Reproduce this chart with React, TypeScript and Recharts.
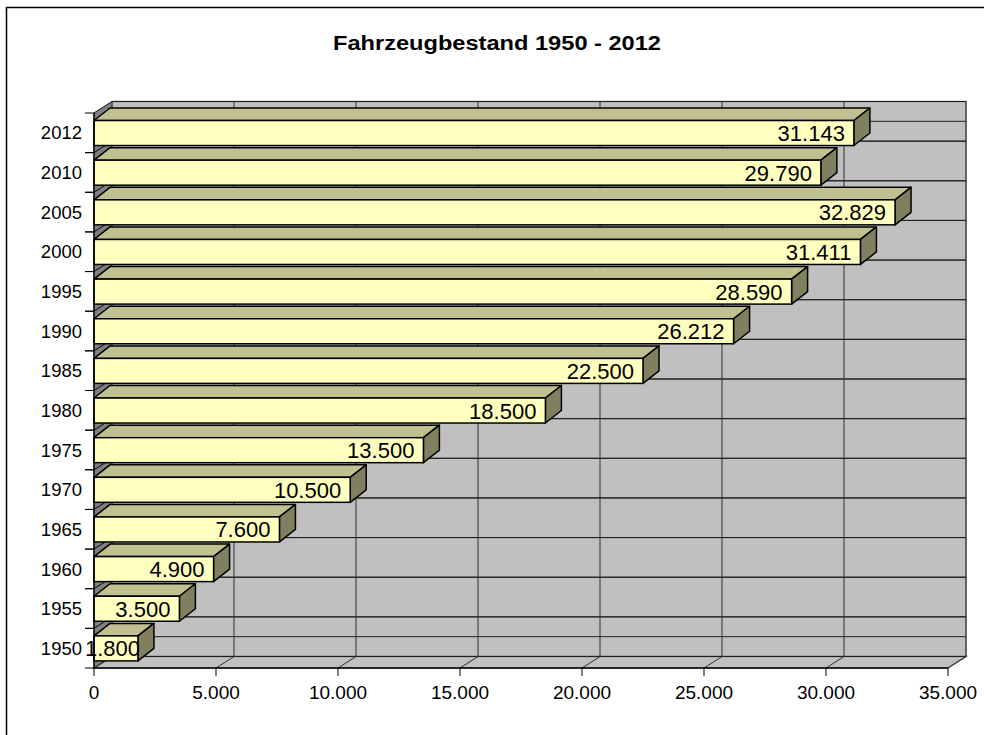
import { BarChart, Bar, XAxis, YAxis, CartesianGrid } from 'recharts';

const YEARS = ['1950', '1955', '1960', '1965', '1970', '1975', '1980', '1985', '1990', '1995', '2000', '2005', '2010', '2012'];
const VEHICLES = [1800, 3500, 4900, 7600, 10500, 13500, 18500, 22500, 26212, 28590, 31411, 32829, 29790, 31143];
const X_TICKS = [0, 5000, 10000, 15000, 20000, 25000, 30000, 35000];
const TITLE = 'Fahrzeugbestand 1950 - 2012';

const data = YEARS.map((year, i) => ({ year, value: VEHICLES[i] }));

const W = 984;
const H = 735;
const FONT = '"Liberation Sans", Arial, sans-serif';

// front plane of the plot
const PLOT = { left: 94, top: 113, right: 948, bottom: 668 };
const BAND = (PLOT.bottom - PLOT.top) / YEARS.length;

// depth offsets for the fake 3D look
const WALL_DX = 18;
const WALL_DY = -11.5;
const BAR_DX = 16;
const BAR_DY = -12.5;

const fmt = (v: number) => String(v).replace(/\B(?=(\d{3})+(?!\d))/g, '.');

function Bar3D(props: any) {
  const { x, y, width, height, payload } = props;
  const x2 = x + width;
  const y2 = y + height;
  const top = `${x},${y} ${x + BAR_DX},${y + BAR_DY} ${x2 + BAR_DX},${y + BAR_DY} ${x2},${y}`;
  const side = `${x2},${y} ${x2 + BAR_DX},${y + BAR_DY} ${x2 + BAR_DX},${y2 + BAR_DY} ${x2},${y2}`;
  // keep tiny labels from running over the axis labels
  const labelRight = Math.max(x2 - 9, x + 46);
  return (
    <g>
      <polygon points={top} fill="#C0C090" stroke="#000" strokeWidth={1.5} strokeLinejoin="round" />
      <polygon points={side} fill="#808060" stroke="#000" strokeWidth={1.5} strokeLinejoin="round" />
      <rect x={x} y={y} width={width} height={height} fill="#FFFFC0" stroke="#000" strokeWidth={1.5} />
      <text x={labelRight} y={y + height / 2 + 8} textAnchor="end" fontSize={22} fontFamily={FONT} fill="#000">
        {fmt(payload.value)}
      </text>
    </g>
  );
}

function YearTick(props: any) {
  const { y, payload } = props;
  const edges = [y - BAND / 2, y + BAND / 2];
  return (
    <g>
      {edges.map((e) => (
        <line key={e} x1={PLOT.left - 9} y1={e} x2={PLOT.left} y2={e} stroke="#000" />
      ))}
      <text x={PLOT.left - 12} y={y} dy="0.36em" textAnchor="end" fontSize={18.5} fontFamily={FONT} fill="#000">
        {payload.value}
      </text>
    </g>
  );
}

const renderVertical = (p: any) => (
  <g key={`v-${p.index}`}>
    <line x1={p.x1 + WALL_DX} y1={p.y1 + WALL_DY} x2={p.x2 + WALL_DX} y2={p.y2 + WALL_DY} stroke="#303030" />
    <line x1={p.x1} y1={p.y2} x2={p.x1 + WALL_DX} y2={p.y2 + WALL_DY} stroke="#303030" />
  </g>
);

// category lines sit on band edges, not band centres
const renderHorizontal = (p: any) => (
  <g key={`h-${p.index}`}>
    {[p.y1 - BAND / 2, p.y1 + BAND / 2]
      .filter((yb) => yb > PLOT.top - 1 && yb < PLOT.bottom + 1)
      .map((yb) => (
        <g key={yb}>
          <line x1={p.x1} y1={yb} x2={p.x1 + WALL_DX} y2={yb + WALL_DY} stroke="#202020" />
          <line x1={p.x1 + WALL_DX} y1={yb + WALL_DY} x2={p.x2 + WALL_DX} y2={yb + WALL_DY} stroke="#202020" />
        </g>
      ))}
  </g>
);

function Backdrop() {
  const bl = PLOT.left + WALL_DX;
  const br = PLOT.right + WALL_DX;
  const bt = PLOT.top + WALL_DY;
  const bb = PLOT.bottom + WALL_DY;
  return (
    <svg width={W} height={H} style={{ position: 'absolute', left: 0, top: 0 }}>
      <rect x={0} y={0} width={W} height={H} fill="#fff" />
      <line x1={6.5} y1={7} x2={6.5} y2={H + 10} stroke="#000" strokeWidth={1.5} />
      <line x1={6} y1={7.5} x2={W + 10} y2={7.5} stroke="#000" strokeWidth={1.5} />
      <text
        x={497}
        y={50}
        textAnchor="middle"
        fontSize={20}
        fontWeight="bold"
        fontFamily={FONT}
        textLength={328}
        lengthAdjust="spacingAndGlyphs"
        fill="#000"
      >
        {TITLE}
      </text>
      <rect x={bl} y={bt} width={br - bl} height={bb - bt} fill="#C0C0C0" stroke="#808080" strokeWidth={1.5} />
      <polygon
        points={`${PLOT.left},${PLOT.top} ${bl},${bt} ${bl},${bb} ${PLOT.left},${PLOT.bottom}`}
        fill="#808080"
        stroke="#808080"
      />
      <polygon
        points={`${PLOT.left},${PLOT.bottom} ${PLOT.right},${PLOT.bottom} ${br},${bb} ${bl},${bb}`}
        fill="#C0C0C0"
        stroke="#808080"
        strokeWidth={1.5}
      />
    </svg>
  );
}

export default function App() {
  return (
    <div style={{ position: 'absolute', left: 0, top: 0, width: W, height: H, overflow: 'hidden' }}>
      <style>{'html,body{margin:0;overflow:hidden}'}</style>
      <Backdrop />
      <div style={{ position: 'absolute', left: 0, top: 0 }}>
        <BarChart
          width={W}
          height={H}
          data={data}
          layout="vertical"
          accessibilityLayer={false}
          margin={{ top: PLOT.top, right: W - PLOT.right, bottom: H - PLOT.bottom - 30, left: PLOT.left - 80 }}
          barCategoryGap="19%"
        >
          <CartesianGrid vertical={renderVertical} horizontal={renderHorizontal} />
          <XAxis
            type="number"
            domain={[0, 35000]}
            ticks={X_TICKS}
            interval={0}
            height={30}
            tickFormatter={fmt}
            tickSize={8}
            tickMargin={10}
            axisLine={{ stroke: '#000', strokeWidth: 1.5 }}
            tickLine={{ stroke: '#000' }}
            tick={{ fill: '#000', fontSize: 19, fontFamily: FONT }}
          />
          <YAxis
            type="category"
            dataKey="year"
            reversed
            width={80}
            interval={0}
            axisLine={{ stroke: '#000', strokeWidth: 1.5 }}
            tickLine={false}
            tick={(p: any) => <YearTick {...p} />}
          />
          <Bar dataKey="value" shape={(p: any) => <Bar3D {...p} />} isAnimationActive={false} />
        </BarChart>
      </div>
    </div>
  );
}
